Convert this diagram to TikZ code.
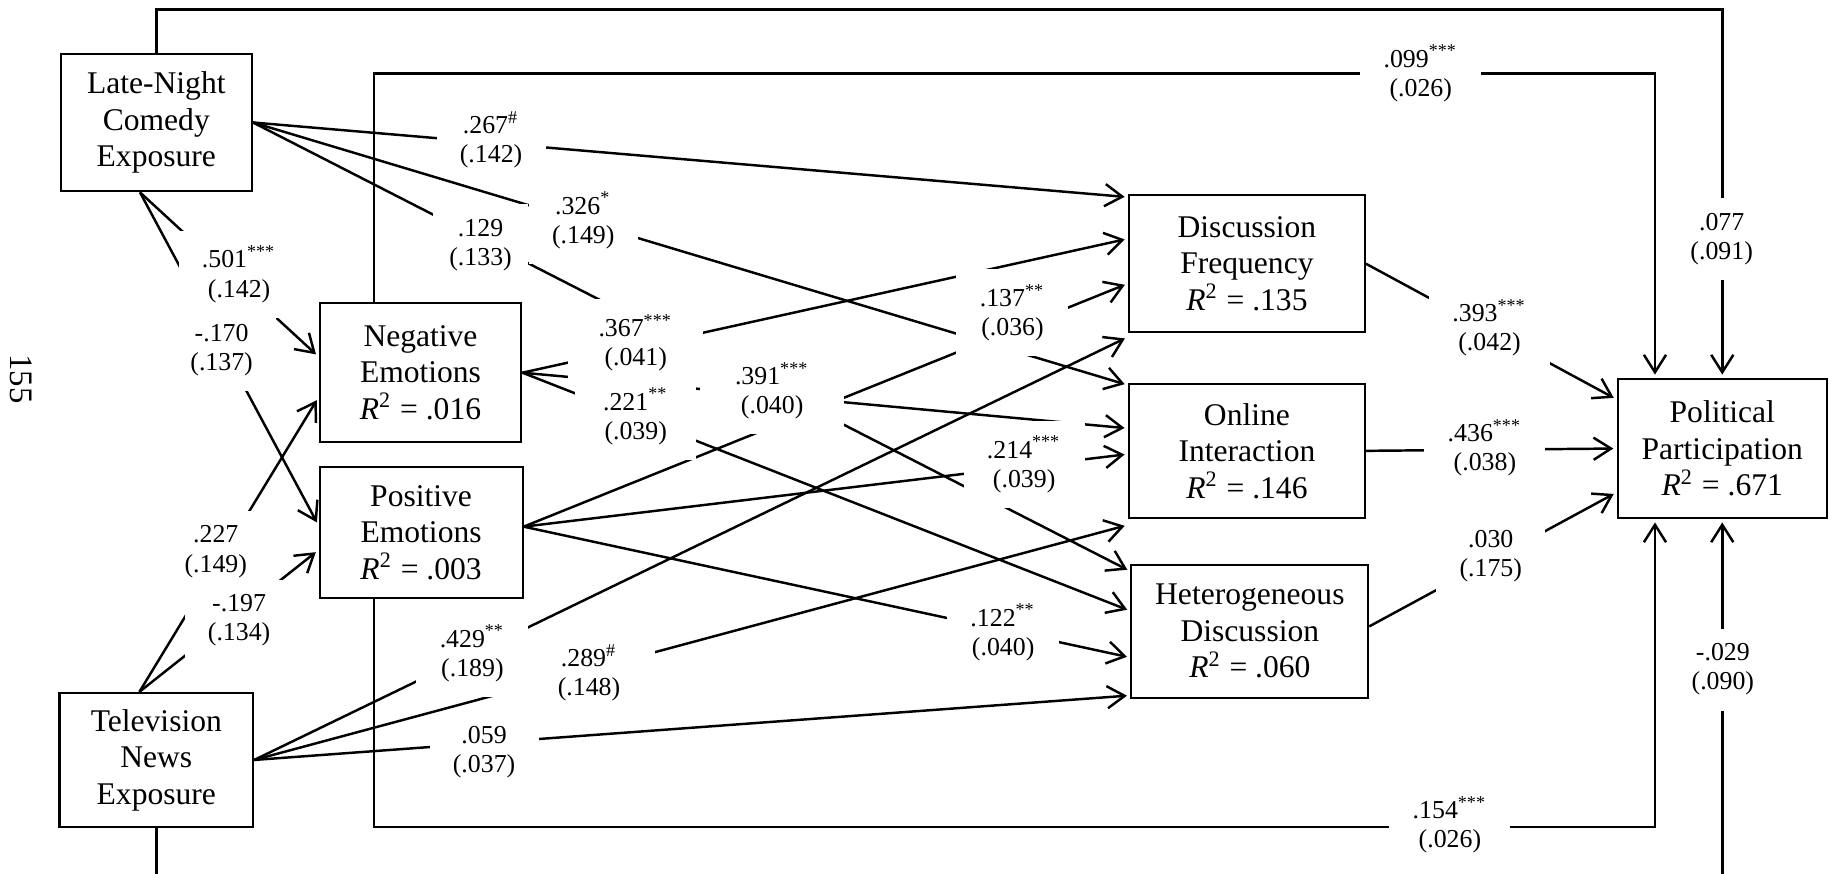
\documentclass[tikz,border=0pt]{standalone}
\usepackage{fontspec}
\setmainfont{Liberation Serif}
\usetikzlibrary{arrows.meta}

\tikzset{
  box/.style={draw, line width=0.5pt, align=center, inner sep=0pt,
    font=\fontsize{7.7}{8.9}\selectfont},
  lbl/.style={fill=white, align=center, inner xsep=2mm, inner ysep=1.3mm,
    font=\fontsize{6.3}{7.1}\selectfont},
  eff/.style={line width=0.6pt, shorten >=0.3mm,
    -{Straight Barb[length=1.5mm,width=1.9mm]}},
  med/.style={shorten >=0.55mm},
}

\begin{document}
\begin{tikzpicture}[x=0.1mm, y=-0.1mm]
  \useasboundingbox (0,0) rectangle (1568,749);
  \clip (0,0) rectangle (1568,749);

  % variables
  \node[box, minimum width=16.4mm, minimum height=11.8mm] (LN) at (134,105) {Late-Night\\Comedy\\Exposure};
  \node[box, minimum width=16.6mm, minimum height=11.5mm] (TV) at (134,651.5) {Television\\News\\Exposure};
  \node[box, minimum width=17.3mm, minimum height=11.9mm] (Neg) at (360.5,319.5) {Negative\\Emotions\\\textit{R}\textsuperscript{2} = .016};
  \node[box, minimum width=17.4mm, minimum height=11.3mm] (Pos) at (361,456.5) {Positive\\Emotions\\\textit{R}\textsuperscript{2} = .003};
  \node[box, minimum width=20.2mm, minimum height=11.8mm] (DF) at (1069,226) {Discussion\\Frequency\\\textit{R}\textsuperscript{2} = .135};
  \node[box, minimum width=20.2mm, minimum height=11.5mm] (OI) at (1069,386.5) {Online\\Interaction\\\textit{R}\textsuperscript{2} = .146};
  \node[box, minimum width=20.3mm, minimum height=11.4mm] (HD) at (1071.5,541) {Heterogeneous\\Discussion\\\textit{R}\textsuperscript{2} = .060};
  \node[box, minimum width=17.9mm, minimum height=11.9mm] (PP) at (1476.5,384.5) {Political\\Participation\\\textit{R}\textsuperscript{2} = .671};

  \node[font=\fontsize{8}{9}\selectfont, rotate=-90] (page) at (18.5,325) {155};

  % direct paths round the frame
  \coordinate (otl) at (134,8);     \coordinate (otr) at (1476.5,8);
  \coordinate (itl) at (320.8,63);  \coordinate (itr) at (1418.8,63);
  \coordinate (ibl) at (320.8,709); \coordinate (ibr) at (1418.8,709);
  \coordinate (obl) at (134,770);   \coordinate (obr) at (1476.5,770);
  \draw[eff] (LN.north) -- (otl) -- (otr) -- (PP.north -| otr);
  \draw[eff] (Neg.north -| itl) -- (itl) -- (itr) -- (PP.north -| itr);
  \draw[eff] (Pos.south -| ibl) -- (ibl) -- (ibr) -- (PP.south -| ibr);
  \draw[eff] (TV.south) -- (obl) -- (obr) -- (PP.south -| obr);

  % exposure -> emotions
  \draw[eff] ([xshift=-1.4mm]LN.south) -- ([yshift=1.37mm]Neg.west);
  \draw[eff] ([xshift=-1.4mm]LN.south) -- ([yshift=0.6mm]Pos.west);
  \draw[eff] ([xshift=-1.45mm]TV.north) -- ([yshift=-2.1mm]Neg.west);
  \draw[eff] ([xshift=-1.45mm]TV.north) -- ([yshift=-1.5mm]Pos.west);

  % exposure and emotions -> mediators
  \begin{scope}[med]
    \draw[eff] (LN.east) -- ([yshift=5.7mm]DF.west);
    \draw[eff] (LN.east) -- ([yshift=5.63mm]OI.west);
    \draw[eff] (LN.east) -- ([yshift=5.12mm]HD.west);
    \draw[eff] (TV.east) -- ([yshift=-6.28mm]DF.west);
    \draw[eff] (TV.east) -- ([yshift=-6.35mm]OI.west);
    \draw[eff] (TV.east) -- ([yshift=-5.52mm]HD.west);
    \draw[eff] (Neg.east) -- ([yshift=2.14mm]DF.west);
    \draw[eff] (Neg.east) -- ([yshift=1.93mm]OI.west);
    \draw[eff] (Neg.east) -- ([yshift=1.72mm]HD.west);
    \draw[eff] ([yshift=0.5mm]Pos.east) -- ([yshift=-1.7mm]DF.west);
    \draw[eff] ([yshift=0.5mm]Pos.east) -- ([yshift=-0.28mm]OI.west);
    \draw[eff] ([yshift=0.5mm]Pos.east) -- ([yshift=-2.27mm]HD.west);
  \end{scope}

  % mediators -> participation
  \draw[eff] (DF.east) -- ([yshift=4.2mm]PP.west);
  \draw[eff] (OI.east) -- (PP.west);
  \draw[eff] ([yshift=0.4mm]HD.east) -- ([yshift=-3.75mm]PP.west);

  % coefficients
  \node[lbl] (b501) at (205,235) {.501\textsuperscript{***}\\(.142)};
  \node[lbl] (b170) at (190,300) {-.170\\(.137)};
  \node[lbl] (b227) at (185,473) {.227\\(.149)};
  \node[lbl] (b197) at (205,532) {-.197\\(.134)};
  \node[lbl, inner ysep=0.5mm] (b267) at (421,120) {.267\textsuperscript{\#}\\(.142)};
  \node[lbl] (b326) at (500,189) {.326\textsuperscript{*}\\(.149)};
  \node[lbl, inner xsep=1.4mm] (b129) at (412,210) {.129\\(.133)};
  \node[lbl] (b429) at (405,560) {.429\textsuperscript{**}\\(.189)};
  \node[lbl, inner xsep=3mm] (b289) at (505,577) {.289\textsuperscript{\#}\\(.148)};
  \node[lbl, inner ysep=0.8mm] (b059) at (415,645) {.059\\(.037)};
  \node[lbl, inner xsep=2.6mm] (b367) at (545,294) {.367\textsuperscript{***}\\(.041)};
  \node[lbl, inner xsep=2.4mm] (b221) at (545,357) {.221\textsuperscript{**}\\(.039)};
  \node[lbl, inner xsep=3mm] (b391) at (662,335) {.391\textsuperscript{***}\\(.040)};
  \node[lbl] (b137) at (868,268) {.137\textsuperscript{**}\\(.036)};
  \node[lbl] (b214) at (878,398) {.214\textsuperscript{***}\\(.039)};
  \node[lbl] (b122) at (860,542) {.122\textsuperscript{**}\\(.040)};
  \node[lbl] (b393) at (1277,281) {.393\textsuperscript{***}\\(.042)};
  \node[lbl] (b436) at (1273,384) {.436\textsuperscript{***}\\(.038)};
  \node[lbl] (b030) at (1278,477) {.030\\(.175)};
  \node[lbl] (b099) at (1218,63) {.099\textsuperscript{***}\\(.026)};
  \node[lbl] (b077) at (1476,205) {.077\\(.091)};
  \node[lbl] (b154) at (1243,707) {.154\textsuperscript{***}\\(.026)};
  \node[lbl] (b029) at (1477,574) {-.029\\(.090)};
\end{tikzpicture}
\end{document}
